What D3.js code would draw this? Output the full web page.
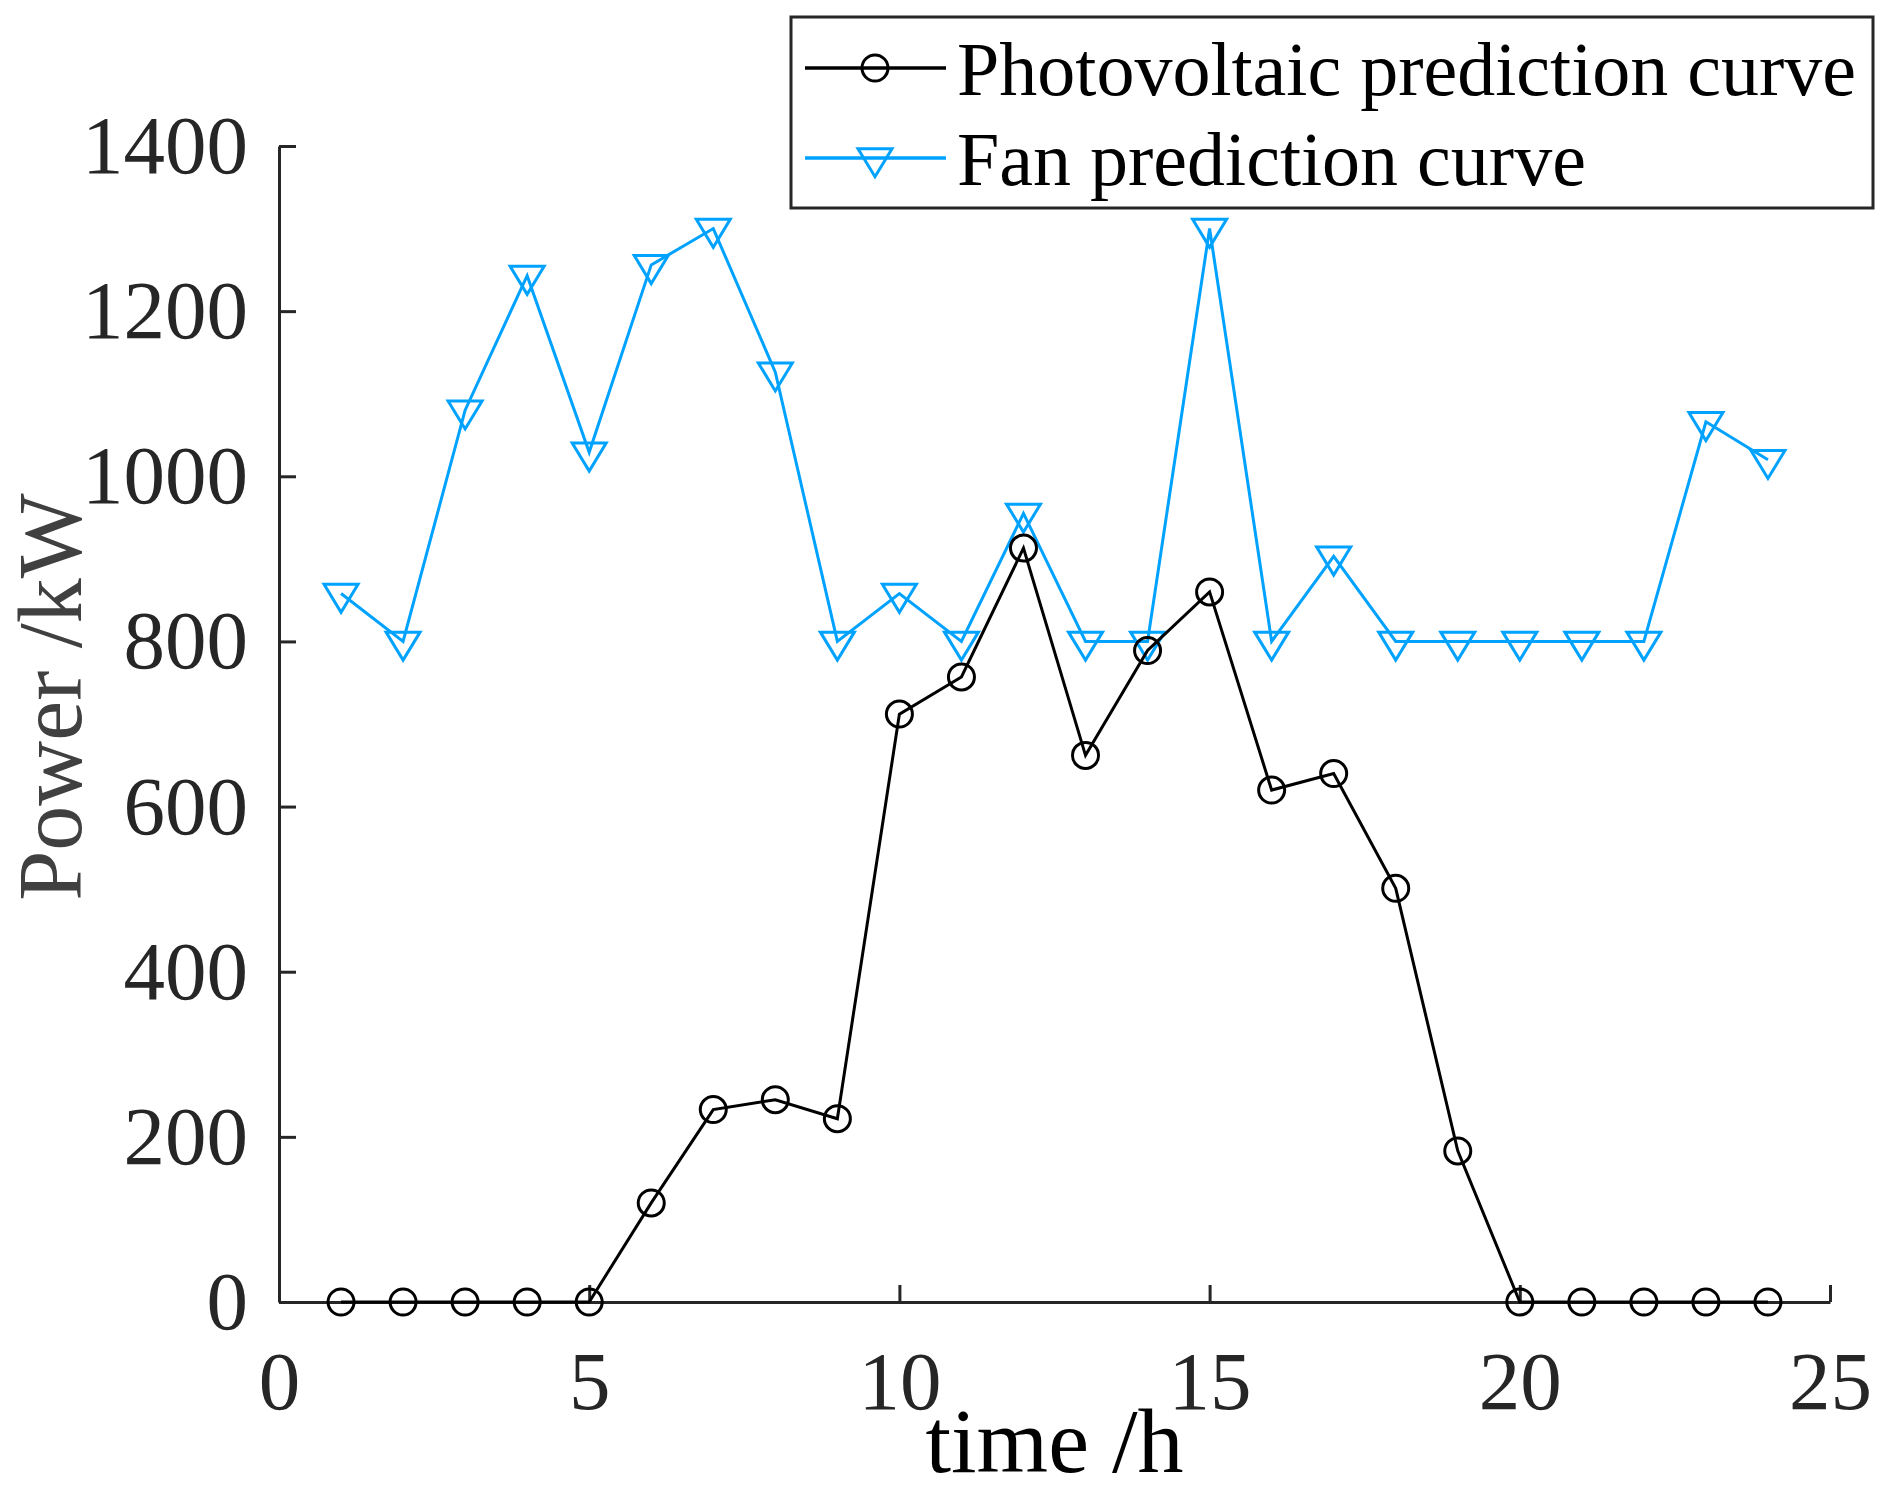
<!DOCTYPE html>
<html>
<head>
	<title>index</title>
	<meta charset="UTF-8">
	<script src="https://d3js.org/d3.v7.min.js" charset="utf-8"></script>
	<style>
		body {
			margin: 0;
			background: #fff;
		}
		svg {
			display: block;
			font-family: "Liberation Serif", "Times New Roman", serif;
		}
		.axis path, .axis line {
			stroke: #262626;
			stroke-width: 3;
		}
		.axis text {
			fill: #262626;
			font-size: 83px;
			font-family: "Liberation Serif", "Times New Roman", serif;
		}
	</style>
</head>
<body>
<script>
		// hourly forecast
		var hours = [1,2,3,4,5,6,7,8,9,10,11,12,13,14,15,16,17,18,19,20,21,22,23,24];
		var pvValues = [0,0,0,0,0,120,233,245,222,712,757,913,662,789,860,620,640,501,183,0,0,0,0,0];
		var fanValues = [858,800,1080,1243,1029,1256,1300,1126,800,858,800,955,800,800,1300,800,903,800,800,800,800,800,1066,1020];
		var xTicks = [0,5,10,15,20,25];
		var yTicks = [0,200,400,600,800,1000,1200,1400];
		var seriesNames = ["Photovoltaic prediction curve", "Fan prediction curve"];

		var width = 1888, height = 1492;
		var plotLeft = 279, plotRight = 1830, plotTop = 146, plotBottom = 1302;
		var blue = "#00a2ff";

		var svg = d3.select("body").append("svg").attr("width",width).attr("height",height);

		var x = d3.scaleLinear().domain([0,25]).range([plotLeft,plotRight]);
		var y = d3.scaleLinear().domain([0,1400]).range([plotBottom,plotTop]);

		// axes, ticks point inwards like matlab
		svg.append("g").attr("class","axis").attr("transform","translate(0,"+plotBottom+")")
			.call(d3.axisBottom(x).tickValues(xTicks).tickFormat(d3.format("d"))
				.tickSizeInner(-17).tickSizeOuter(0).tickPadding(48));
		svg.append("g").attr("class","axis").attr("transform","translate("+plotLeft+",0)")
			.call(d3.axisLeft(y).tickValues(yTicks).tickFormat(d3.format("d"))
				.tickSizeInner(-17).tickSizeOuter(0).tickPadding(31));

		// down triangle, centroid on the point
		var triPath = "M-17,-9.3L17,-9.3L0,18.7Z";

		function drawMarker(g,cx,cy,color,marker) {
			if (marker == "circle") {
				g.append("circle").attr("cx",cx).attr("cy",cy).attr("r",13)
					.attr("fill","none").attr("stroke",color).attr("stroke-width",3);
			} else {
				g.append("path").attr("d",triPath).attr("transform","translate("+cx+","+cy+")")
					.attr("fill","none").attr("stroke",color).attr("stroke-width",3);
			}
		}

		function drawSeries(values, color, marker) {
			var g = svg.append("g");
			var pts = hours.map(function(h,i){ return [x(h), y(values[i])]; });
			g.append("path").attr("d",d3.line()(pts)).attr("fill","none")
				.attr("stroke",color).attr("stroke-width",3);
			pts.forEach(function(p){
				drawMarker(g,p[0],p[1],color,marker);
			});
		}

		drawSeries(fanValues, blue, "tri");
		drawSeries(pvValues, "#000", "circle");

		// axis labels
		svg.append("text").attr("x",(plotLeft+plotRight)/2).attr("y",1472).attr("text-anchor","middle")
			.attr("font-size",92).attr("fill","#000").text("time /h");
		svg.append("text").attr("transform","translate(81,697) rotate(-90)").attr("text-anchor","middle")
			.attr("font-size",90).attr("fill","#404040").text("Power /kW");

		// legend
		var legend = svg.append("g");
		legend.append("rect").attr("x",791).attr("y",17).attr("width",1082).attr("height",191)
			.attr("fill","#fff").attr("stroke","#262626").attr("stroke-width",3);
		var rows = [{name:seriesNames[0], color:"#000", marker:"circle", y:68},
		            {name:seriesNames[1], color:blue, marker:"tri", y:158}];
		rows.forEach(function(r){
			legend.append("line").attr("x1",805).attr("x2",946).attr("y1",r.y).attr("y2",r.y)
				.attr("stroke",r.color).attr("stroke-width",3.5);
			drawMarker(legend,875,r.y,r.color,r.marker);
			legend.append("text").attr("x",957).attr("y",r.y+27).attr("font-size",76)
				.attr("fill","#000").text(r.name);
		});
</script>
</body>
</html>
